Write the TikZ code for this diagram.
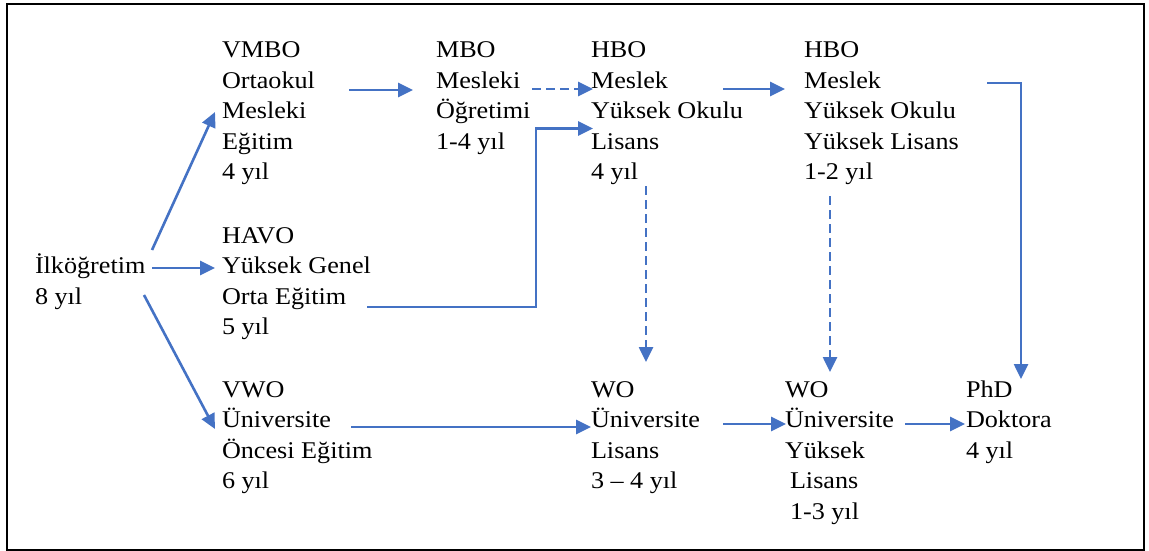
\documentclass[tikz,border=0pt]{standalone}
\usepackage{fontspec}
\setmainfont[FakeStretch=1.09]{Liberation Serif}
\usetikzlibrary{arrows.meta}
\definecolor{ablue}{HTML}{4472C4}
\tikzset{
  lbl/.style={anchor=north west, inner sep=0pt, outer sep=0pt, align=left,
    yshift=21.35pt, font=\fontsize{24}{30.5}\selectfont},
  arr/.style={draw=ablue, line width=2.6pt,
    -{Triangle[length=15pt,width=14pt]}},
  dsh/.style={arr, dash pattern=on 8.5pt off 5.5pt},
  frame/.style={draw=black, line width=2pt}
}
\begin{document}
\begin{tikzpicture}[x=1pt,y=-1pt]
\useasboundingbox (0,0) rectangle (1149,551);
\draw[frame] (7,4) rectangle (1144,550);

% text blocks
\node[lbl] (ilk)  at (35,273.5) {\strut İlköğretim\\8 yıl};
\node[lbl] (vmbo) at (222,57.5) {\strut VMBO\\Ortaokul\\Mesleki\\Eğitim\\4 yıl};
\node[lbl] (havo) at (222,243)  {\strut HAVO\\Yüksek Genel\\Orta Eğitim\\5 yıl};
\node[lbl] (vwo)  at (222,397)  {\strut VWO\\Üniversite\\Öncesi Eğitim\\6 yıl};
\node[lbl] (mbo)  at (436,57.5) {\strut MBO\\Mesleki\\Öğretimi\\1-4 yıl};
\node[lbl] (hbo)  at (591,57.5) {\strut HBO\\Meslek\\Yüksek Okulu\\Lisans\\4 yıl};
\node[lbl] (hboy) at (804,57.5) {\strut HBO\\Meslek\\Yüksek Okulu\\Yüksek Lisans\\1-2 yıl};
\node[lbl] (wo)   at (591,397)  {\strut WO\\Üniversite\\Lisans\\3 – 4 yıl};
\node[lbl] (woy)  at (785,397)  {\strut WO\\Üniversite\\Yüksek\\\hspace*{5pt}Lisans\\\hspace*{5pt}1-3 yıl};
\node[lbl] (phd)  at (966,397)  {\strut PhD\\Doktora\\4 yıl};

% connector end points
\coordinate (a1s) at (152,250);  \coordinate (a1e) at (215,112);
\coordinate (a2s) at (152,268);  \coordinate (a2e) at (215,268);
\coordinate (a3s) at (144,295);  \coordinate (a3e) at (215,429);
\coordinate (a4s) at (349,90);   \coordinate (a4e) at (413,90);
\coordinate (a5s) at (532,89);   \coordinate (a5e) at (593,89);
\coordinate (a6s) at (367,307);  \coordinate (a6m) at (536,307);
\coordinate (a6n) at (536,128.5);\coordinate (a6e) at (593,128.5);
\coordinate (a7s) at (723,89);   \coordinate (a7e) at (785,89);
\coordinate (a8s) at (987,83);   \coordinate (a8m) at (1021,83);
\coordinate (a8e) at (1021,379);
\coordinate (a9s) at (646,186);  \coordinate (a9e) at (646,362);
\coordinate (a10s) at (830,196); \coordinate (a10e) at (830,372);
\coordinate (a11s) at (351,427); \coordinate (a11e) at (591,427);
\coordinate (a12s) at (723,424); \coordinate (a12e) at (786,424);
\coordinate (a13s) at (905,424); \coordinate (a13e) at (965,424);

% connectors
\draw[arr] (a1s) -- (a1e);
\draw[arr] (a2s) -- (a2e);
\draw[arr] (a3s) -- (a3e);
\draw[arr] (a4s) -- (a4e);
\draw[dsh] (a5s) -- (a5e);
\draw[arr] (a6s) -- (a6m) -- (a6n) -- (a6e);
\draw[arr] (a7s) -- (a7e);
\draw[arr] (a8s) -- (a8m) -- (a8e);
\draw[dsh] (a9s) -- (a9e);
\draw[dsh] (a10s) -- (a10e);
\draw[arr] (a11s) -- (a11e);
\draw[arr] (a12s) -- (a12e);
\draw[arr] (a13s) -- (a13e);
\end{tikzpicture}
\end{document}
